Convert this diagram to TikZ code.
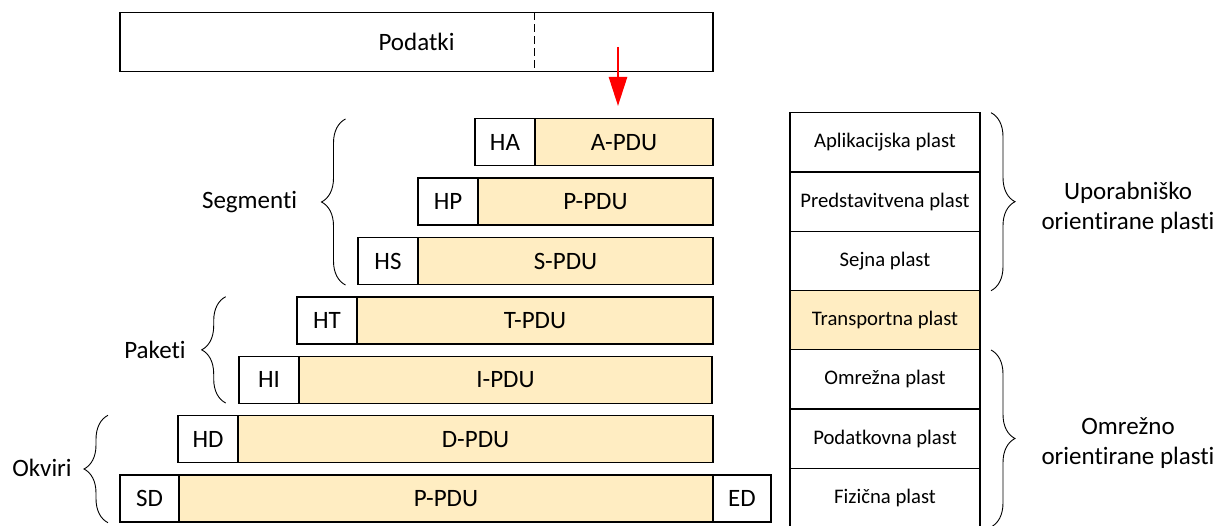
\documentclass[tikz,border=0pt]{standalone}
\usepackage{fontspec}
\setmainfont{Carlito}[RawFeature={-liga;-clig;-calt;-dlig}]
\usetikzlibrary{arrows.meta,decorations.pathreplacing}
\definecolor{pdufill}{HTML}{FFEDC2}
\begin{document}
\begin{tikzpicture}[x=1pt,y=-1pt,
  bigfont/.style={font=\fontsize{25}{30}\selectfont},
  box/.style={draw,line width=1.4pt,rectangle,inner sep=0pt,outer sep=0pt,anchor=north west,minimum height=47pt,bigfont},
  hdr/.style={box,minimum width=60pt},
  pdu/.style={box,fill=pdufill},
  layer/.style={draw,line width=1.4pt,rectangle,inner sep=0pt,outer sep=0pt,minimum width=190pt,minimum height=59.27pt,anchor=north west,font=\fontsize{20.7}{24}\selectfont},
  grp/.style={bigfont,align=center},
  brc/.style={decorate,decoration={brace,amplitude=24pt},line width=0.9pt},
  redarrow/.style={draw=red,line width=2.6pt,-{Triangle[width=18pt,length=29pt]}}]
\useasboundingbox (0,0) rectangle (1223,526);

% Podatki
\node[draw,line width=1.4pt,rectangle,inner sep=0pt,outer sep=0pt,anchor=north west,minimum width=593pt,minimum height=59pt,bigfont] (data) at (120,12.3) {Podatki};
\coordinate (dtop) at (534.5,12.3);
\coordinate (dbot) at (534.5,71.3);
\draw[line width=1.3pt,dash pattern=on 8pt off 4pt] (dtop) -- (dbot);

% arrow
\coordinate (astart) at (618,47);
\coordinate (aend) at (618,106);
\draw[redarrow] (astart) -- (aend);

% PDU rows
\node[hdr] (ha) at (475,118.7) {HA};
\node[pdu,minimum width=178pt] (apdu) at (ha.north east) {A-PDU};
\node[hdr] (hp) at (418,178.1) {HP};
\node[pdu,minimum width=235pt] (ppdu) at (hp.north east) {P-PDU};
\node[hdr] (hs) at (358,237.5) {HS};
\node[pdu,minimum width=295pt] (spdu) at (hs.north east) {S-PDU};
\node[hdr] (ht) at (297,296.9) {HT};
\node[pdu,minimum width=356pt] (tpdu) at (ht.north east) {T-PDU};
\node[hdr] (hi) at (239,356.3) {HI};
\node[pdu,minimum width=413pt] (ipdu) at (hi.north east) {I-PDU};
\node[hdr] (hd) at (178,415.7) {HD};
\node[pdu,minimum width=475pt] (dpdu) at (hd.north east) {D-PDU};
\node[hdr,minimum width=59pt] (sd) at (120,475.1) {SD};
\node[pdu,minimum width=534pt] (phpdu) at (sd.north east) {P-PDU};
\node[hdr,minimum width=58pt] (ed) at (phpdu.north east) {ED};

% left braces
\coordinate (segb) at (345.5,285);
\coordinate (segt) at (345.5,119);
\draw[brc] (segb) -- (segt);
\node[grp] (seg) at (249.6,201.7) {Segmenti};
\coordinate (pakb) at (225.7,403);
\coordinate (pakt) at (225.7,296.7);
\draw[brc] (pakb) -- (pakt);
\node[grp] (pak) at (155,350) {Paketi};
\coordinate (okvb) at (108,522.7);
\coordinate (okvt) at (108,415.3);
\draw[brc] (okvb) -- (okvt);
\node[grp] (okv) at (42,468) {Okviri};

% layer column
\node[layer] (l1) at (790,112.7) {Aplikacijska plast};
\node[layer] (l2) at (l1.south west) {Predstavitvena plast};
\node[layer] (l3) at (l2.south west) {Sejna plast};
\node[layer,fill=pdufill] (l4) at (l3.south west) {Transportna plast};
\node[layer] (l5) at (l4.south west) {Omrežna plast};
\node[layer] (l6) at (l5.south west) {Podatkovna plast};
\node[layer] (l7) at (l6.south west) {Fizična plast};

% right braces
\coordinate (ubt) at (991,112.7);
\coordinate (ubb) at (991,290.7);
\draw[brc] (ubt) -- (ubb);
\node[grp] (uo) at (1128,208) {Uporabniško\\orientirane plasti};
\coordinate (obt) at (991,350);
\coordinate (obb) at (991,527);
\draw[brc] (obt) -- (obb);
\node[grp] (oo) at (1128,443) {Omrežno\\orientirane plasti};
\end{tikzpicture}
\end{document}
